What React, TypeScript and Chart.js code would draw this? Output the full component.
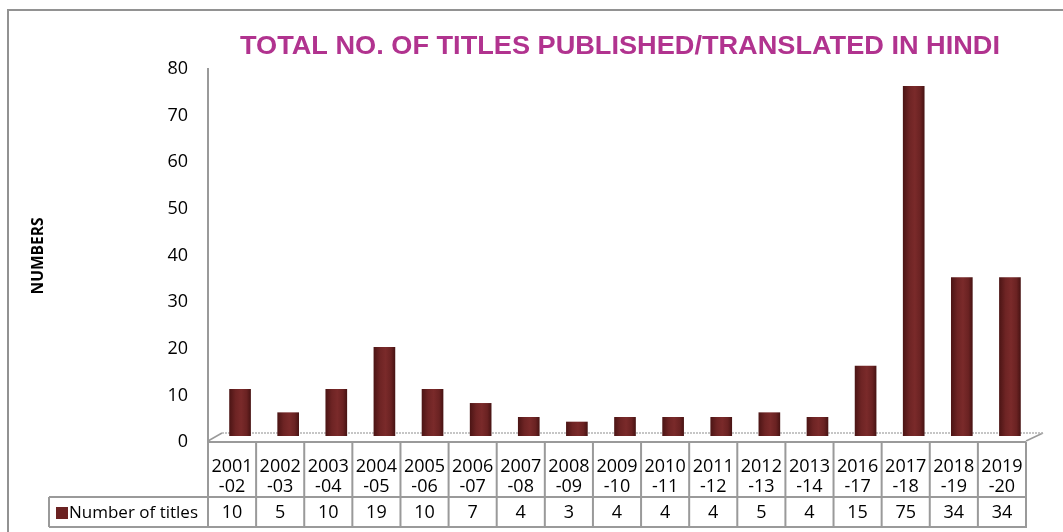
import React, { useEffect, useRef } from "react";
import { Chart, registerables } from "chart.js";

Chart.register(...registerables);

const categories = [
  "2001-02", "2002-03", "2003-04", "2004-05", "2005-06", "2006-07", "2007-08",
  "2008-09", "2009-10", "2010-11", "2011-12", "2012-13", "2013-14", "2016-17",
  "2017-18", "2018-19", "2019-20",
];
const values = [10, 5, 10, 19, 10, 7, 4, 3, 4, 4, 4, 5, 4, 15, 75, 34, 34];
const seriesName = "Number of titles";
const chartTitle = "TOTAL NO. OF TITLES PUBLISHED/TRANSLATED IN HINDI";
const yAxisTitle = "NUMBERS";
const yMin = 0;
const yMax = 80;
const yStep = 10;

const BAR_COLOR = "#6B2222";
const GRID_GRAY = "#9a9a9a";
const FONT = "'Open Sans', 'DejaVu Sans', sans-serif";
const DX = 8;
const DY = -6;

const decor = {
  id: "decor",
  beforeDraw(chart: any) {
    const { ctx, chartArea } = chart;
    const { left, right, bottom, top } = chartArea;
    ctx.save();
    ctx.fillStyle = "#ffffff";
    ctx.fillRect(0, 0, chart.width, chart.height);
    ctx.strokeStyle = "#929292";
    ctx.lineWidth = 2;
    ctx.strokeRect(8, 10, chart.width + 20, chart.height + 20);

    // title
    ctx.fillStyle = "#B1338F";
    ctx.font = `bold 25px 'Liberation Sans', Arial, sans-serif`;
    ctx.textBaseline = "alphabetic";
    ctx.textAlign = "left";
    const tw = ctx.measureText(chartTitle).width;
    ctx.save();
    ctx.translate(240, 54);
    ctx.scale(760 / tw, 1);
    ctx.fillText(chartTitle, 0, 0);
    ctx.restore();

    // y axis title
    ctx.save();
    ctx.fillStyle = "#000";
    ctx.font = `bold 16px ${FONT}`;
    const yw = ctx.measureText(yAxisTitle).width;
    ctx.translate(43, 256);
    ctx.rotate(-Math.PI / 2);
    ctx.scale(77 / yw, 1);
    ctx.textAlign = "center";
    ctx.textBaseline = "alphabetic";
    ctx.fillText(yAxisTitle, 0, 0);
    ctx.restore();

    // floor
    const fy = bottom - 1;
    ctx.strokeStyle = GRID_GRAY;
    ctx.lineWidth = 1.5;
    ctx.beginPath();
    ctx.moveTo(left, fy);
    ctx.lineTo(left + 14, fy - 8);
    ctx.moveTo(right + 17, fy - 8);
    ctx.lineTo(right, fy);
    ctx.stroke();
    ctx.strokeStyle = "#b4b4b4";
    ctx.setLineDash([2, 1]);
    ctx.beginPath();
    ctx.moveTo(left + 14, fy - 8);
    ctx.lineTo(right + 17, fy - 8);
    ctx.stroke();
    ctx.setLineDash([]);

    // y axis line
    ctx.strokeStyle = GRID_GRAY;
    ctx.lineWidth = 2;
    ctx.beginPath();
    ctx.moveTo(left, top - 1);
    ctx.lineTo(left, bottom);
    ctx.stroke();
    ctx.restore();
  },
  beforeDatasetsDraw(chart: any) {
    chart.ctx.save();
    chart.ctx.translate(DX, DY);
  },
  afterDatasetsDraw(chart: any) {
    chart.ctx.restore();
  },
  afterDraw(chart: any) {
    const { ctx, chartArea, scales } = chart;
    const { left, right, bottom } = chartArea;
    const xs = scales.x;
    const n = categories.length;
    const colW = (right - left) / n;
    const row1Top = bottom;
    const row1Bot = bottom + 55;
    const row2Bot = row1Bot + 30;
    const legendLeft = 49;
    ctx.save();
    ctx.strokeStyle = GRID_GRAY;
    ctx.lineWidth = 2;
    ctx.beginPath();
    ctx.moveTo(left, row1Top);
    ctx.lineTo(right, row1Top);
    ctx.moveTo(legendLeft, row1Bot);
    ctx.lineTo(right + 1, row1Bot);
    ctx.moveTo(legendLeft, row2Bot);
    ctx.lineTo(right + 1, row2Bot);
    ctx.moveTo(legendLeft, row1Bot);
    ctx.lineTo(legendLeft, row2Bot);
    for (let i = 0; i <= n; i++) {
      const x = left + i * colW;
      ctx.moveTo(x, row1Top);
      ctx.lineTo(x, row2Bot);
    }
    ctx.stroke();

    ctx.fillStyle = "#000";
    ctx.font = `18px ${FONT}`;
    ctx.textAlign = "center";
    ctx.textBaseline = "middle";
    for (let i = 0; i < n; i++) {
      const cx = xs.getPixelForValue(i);
      const parts = categories[i].split("-");
      ctx.fillText(parts[0], cx, row1Top + 25);
      ctx.fillText("-" + parts[1], cx, row1Top + 45);
      ctx.fillText(String(values[i]), cx, row1Bot + 16);
    }
    ctx.fillStyle = BAR_COLOR;
    ctx.fillRect(56, row1Bot + 10, 12, 12);
    ctx.fillStyle = "#000";
    ctx.textAlign = "left";
    ctx.font = `17px ${FONT}`;
    ctx.fillText(seriesName, 69, row1Bot + 16);
    ctx.restore();
  },
};

export default function App() {
  const ref = useRef<HTMLCanvasElement | null>(null);
  useEffect(() => {
    if (!ref.current) return;
    const chart = new Chart(ref.current, {
      type: "bar",
      data: {
        labels: categories,
        datasets: [
          {
            label: seriesName,
            data: values,
            backgroundColor: (c: any) => {
              const ch = c.chart;
              const xs = ch.scales && ch.scales.x;
              if (!xs || c.type !== "data") return BAR_COLOR;
              const x = xs.getPixelForValue(c.dataIndex);
              if (!Number.isFinite(x)) return BAR_COLOR;
              const g = ch.ctx.createLinearGradient(x - 11, 0, x + 11, 0);
              g.addColorStop(0, "#4a1414");
              g.addColorStop(0.3, "#6e2424");
              g.addColorStop(0.55, "#7a2a2a");
              g.addColorStop(0.8, "#6a2222");
              g.addColorStop(1, "#451212");
              return g;
            },
            borderWidth: 0,
            barThickness: 21,
          },
        ],
      },
      options: {
        animation: false,
        responsive: false,
        maintainAspectRatio: false,
        layout: { padding: { left: 0, top: 69, right: 37, bottom: 90 } },
        plugins: {
          legend: { display: false },
          title: { display: false },
          tooltip: { enabled: false },
        },
        scales: {
          x: {
            display: false,
            offset: true,
          },
          y: {
            min: yMin,
            max: yMax,
            afterFit: (s: any) => {
              s.width = 208;
            },
            grid: { display: false, drawTicks: false },
            border: { display: false },
            ticks: {
              stepSize: yStep,
              padding: 20,
              color: "#000",
              font: { family: FONT, size: 18 },
            },
          },
        },
      },
      plugins: [decor],
    });
    return () => chart.destroy();
  }, []);
  return (
    <div style={{ position: "fixed", left: 0, top: 0, width: 1063, height: 532 }}>
      <canvas ref={ref} width={1063} height={532} style={{ display: "block" }} />
    </div>
  );
}
